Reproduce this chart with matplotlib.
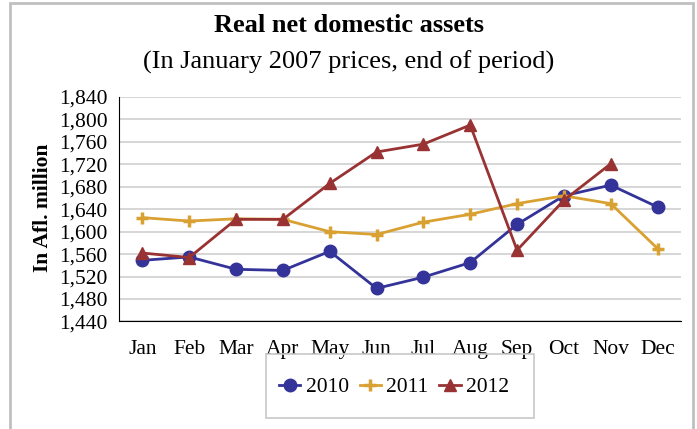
import matplotlib.pyplot as plt
import numpy as np
from matplotlib.patches import Rectangle

plt.rcParams['font.family'] = ['Liberation Serif', 'DejaVu Serif']

months = ['Jan', 'Feb', 'Mar', 'Apr', 'May', 'Jun', 'Jul', 'Aug', 'Sep', 'Oct', 'Nov', 'Dec']
y2010 = [1549, 1555, 1533, 1531, 1565, 1499, 1519, 1545, 1613, 1664, 1683, 1644]
y2011 = [1625, 1619, 1623, 1622, 1600, 1595, 1617, 1631, 1650, 1664, 1650, 1570]
y2012 = [1562, 1554, 1622, 1622, 1686, 1742, 1756, 1790, 1567, 1656, 1721]
yticks = np.arange(1440, 1841, 40)

fig = plt.figure(figsize=(6.97, 4.29), dpi=100)
ax = fig.add_axes([0.1707, 0.2506, 0.8063, 0.5233])

x = np.arange(len(months))
ax.plot(x, y2010, color='#333399', lw=2, marker='o', ms=9, label='2010', zorder=3)
ax.plot(x, y2011, color='#D9A032', lw=2, marker='+', ms=9, mew=2.5, label='2011', zorder=3)
ax.plot(x[:len(y2012)], y2012, color='#993333', lw=2, marker='^', ms=8, label='2012', zorder=3)

ax.set_xlim(-0.5, 11.5)
ax.set_ylim(1440, 1840)
ax.set_yticks(yticks)
ax.set_yticklabels([f'{v:,}' for v in yticks], fontsize=15.5)
ax.set_xticks(x)
ax.set_xticklabels(months, fontsize=15.5)
ax.tick_params(axis='y', length=0, pad=8)
ax.tick_params(axis='x', length=0, pad=13)
ax.grid(axis='y', color='#d0d0d0', lw=1.2)
ax.set_axisbelow(True)
ax.spines['top'].set_visible(False)
ax.spines['right'].set_visible(False)
ax.spines['left'].set_color('black')
ax.spines['bottom'].set_color('black')

fig.text(43/697, 1-208/429, 'In Afl. million', rotation=90, ha='center', va='center',
         fontsize=15.5, fontweight='bold')
fig.text(0.5, 1-25/429, 'Real net domestic assets', ha='center', va='center',
         fontsize=19, fontweight='bold')
fig.text(0.5, 1-62/429, '(In January 2007 prices, end of period)', ha='center', va='center',
         fontsize=19)

# outer chart border
fig.patches.append(Rectangle((10/697, -0.05), 683/697, 1.043, transform=fig.transFigure,
                             fill=False, edgecolor='#c0c0c0', lw=2))
# legend box
fig.patches.append(Rectangle((266/697, 1-418/429), 268/697, 64/429, transform=fig.transFigure,
                             fill=False, edgecolor='#c8c8c8', lw=1.2))
fig.legend(loc='center', bbox_to_anchor=(394/697, 1-387/429), ncol=3, frameon=False,
           fontsize=15.5, handlelength=1.0, handletextpad=0.25, columnspacing=0.5)

plt.savefig('out.png', facecolor='w')
